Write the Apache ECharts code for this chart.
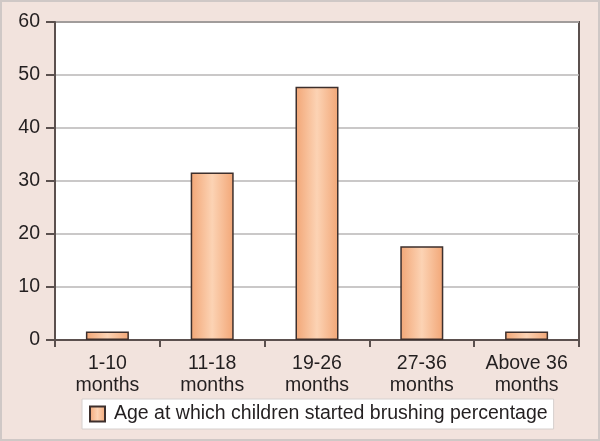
<!DOCTYPE html>
<html><head><meta charset="utf-8">
<script src="https://cdn.jsdelivr.net/npm/echarts@6/dist/echarts.min.js"></script>
<style>
html,body{margin:0;padding:0;background:#f2e3dd;}
#frame{position:absolute;left:0;top:0;width:600px;height:441px;box-sizing:border-box;border:2px solid #cfc8c6;background:#f2e3dd;}
#c{position:absolute;left:0;top:0;width:600px;height:441px;}
</style></head>
<body>
<div id="frame"></div>
<div id="c"></div>
<script>
const categories = ['1-10\nmonths', '11-18\nmonths', '19-26\nmonths', '27-36\nmonths', 'Above 36\nmonths'];
const values = [1.6, 31.6, 47.8, 17.7, 1.6];
const seriesName = 'Age at which children started brushing percentage';
const yTicks = [0, 10, 20, 30, 40, 50, 60];

const chart = echarts.init(document.getElementById('c'), null, {renderer: 'canvas'});
const font = '"Liberation Sans", Arial, sans-serif';
const barGrad = new echarts.graphic.LinearGradient(0, 0, 1, 0, [
  {offset: 0, color: '#f2a676'},
  {offset: 0.5, color: '#fcd3b4'},
  {offset: 1, color: '#f2a676'}
]);
chart.setOption({
  animation: false,
  backgroundColor: 'transparent',
  textStyle: {fontFamily: font},
  grid: {left: 55, right: 21, top: 22, bottom: 101, show: true, backgroundColor: '#ffffff', borderColor: '#5b504e', borderWidth: 2},
  legend: {
    show: true,
    left: 82, top: 399,
    backgroundColor: '#ffffff',
    borderColor: '#d6d0ce', borderWidth: 1,
    padding: [5, 6, 5, 7],
    itemWidth: 15, itemHeight: 15,
    icon: 'rect',
    textStyle: {fontSize: 19.5, color: '#231f20', fontFamily: font, padding: [0, 0, 0, 4]},
    data: [seriesName]
  },
  xAxis: {
    type: 'category',
    data: categories,
    axisLine: {show: true, lineStyle: {color: '#5b504e', width: 2}},
    axisTick: {show: true, length: 7, lineStyle: {color: '#5b504e', width: 2}},
    axisLabel: {interval: 0, fontSize: 19.5, lineHeight: 22, color: '#231f20', margin: 13, fontFamily: font},
    splitLine: {show: false}
  },
  yAxis: {
    type: 'value',
    min: yTicks[0], max: yTicks[yTicks.length - 1], interval: 10,
    axisLine: {show: true, lineStyle: {color: '#5b504e', width: 2}},
    axisTick: {show: true, length: 9, lineStyle: {color: '#5b504e', width: 2}},
    axisLabel: {fontSize: 19.5, color: '#231f20', margin: 15, fontFamily: font},
    splitLine: {show: true, lineStyle: {color: '#b8b6b6', width: 1.5}}
  },
  series: [{
    name: seriesName,
    type: 'bar',
    data: values,
    barWidth: 43,
    itemStyle: {color: barGrad, borderColor: '#3d2f2c', borderWidth: 1.5}
  }]
});
</script>
</body></html>
